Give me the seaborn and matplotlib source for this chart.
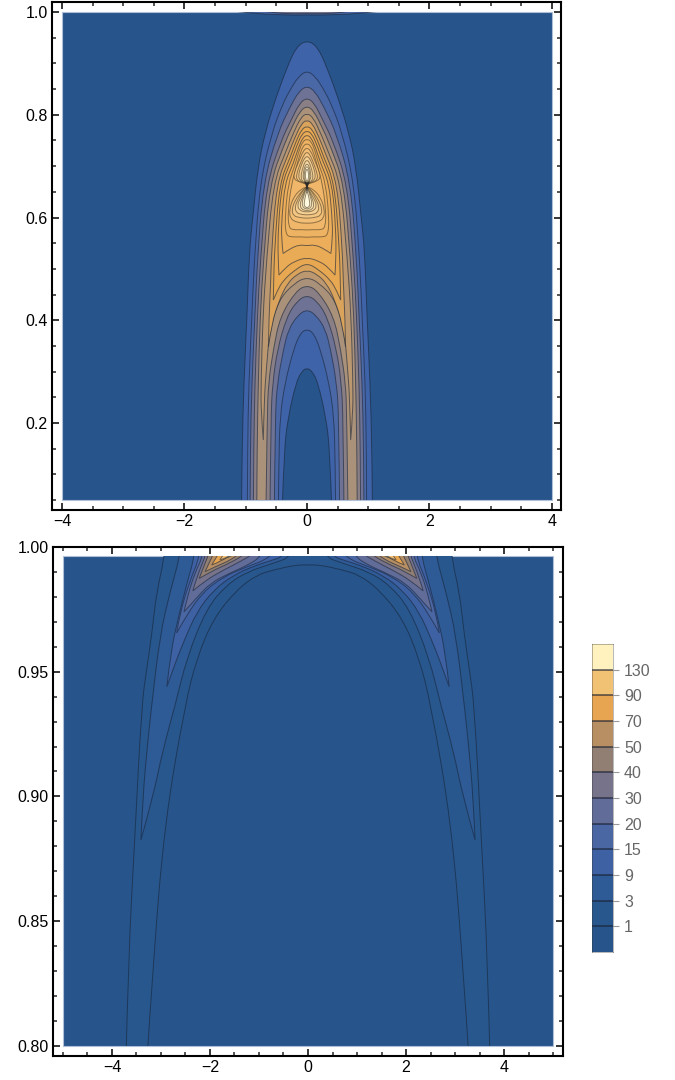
import numpy as np
import matplotlib
matplotlib.use('Agg')
import matplotlib.pyplot as plt
import seaborn as sns

from matplotlib.colors import ListedColormap
from matplotlib.patches import PathPatch, Rectangle
from matplotlib.path import Path

# legend
legend_labels = [130, 90, 70, 50, 40, 30, 20, 15, 9, 3, 1]
legend_colors = ['#27558B', '#28578D', '#2E5A95', '#3E61A3', '#4A66A3', '#616C98',
                 '#76738A', '#927F73', '#B78F63', '#E7A551', '#F2C274', '#FFF2BF']
background_color = legend_colors[0]

top_outer = [
    [(0, .945), (.17, .933), (.32, .894), (.52, .829), (.685, .7645), (.80, .699), (.885, .60), (.94, .537), (.98, .407), (1.03, .278), (1.06, .1475), (1.07, .03)],
    [(0, .886), (.14, .874), (.27, .85), (.40, .82), (.577, .764), (.767, .667), (.86, .517), (.90, .407), (.95, .278), (.97, .15), (.974, .03)],
    [(0, .856), (.13, .846), (.277, .815), (.48, .764), (.713, .667), (.81, .517), (.85, .407), (.90, .278), (.925, .15), (.93, .03)],
    [(0, .833), (.12, .823), (.27, .787), (.42, .75), (.658, .667), (.76, .517), (.81, .407), (.85, .278), (.87, .15), (.876, .03)],
    [(0, .817), (.11, .808), (.25, .775), (.38, .74), (.604, .667), (.71, .517), (.765, .407), (.795, .278), (.815, .15), (.82, .03)],
    [(0, .803), (.10, .795), (.22, .765), (.34, .73), (.55, .667), (.66, .517), (.72, .407), (.75, .278), (.75, .22), (.713, .167)],
    [(0, .79), (.09, .783), (.20, .755), (.30, .725), (.495, .667), (.577, .5367), (.593, .472), (.62, .407), (.63, .3487)],
    [(0, .778), (.085, .772), (.18, .748), (.27, .718), (.45, .667), (.53, .5367), (.545, .47), (.55, .4394)],
    [(0, .769), (.08, .763), (.16, .742), (.25, .712), (.41, .667), (.47, .58), (.475, .52), (.457, .488)],
    [(0, .761), (.07, .755), (.14, .736), (.22, .706), (.36, .667), (.41, .6), (.42, .56), (.39, .53)],
]
top_inner = [
    [(0, .3077), (.09, .30), (.18, .278), (.305, .213), (.375, .1475), (.405, .03)],
    [(0, .383), (.11, .375), (.22, .343), (.36, .278), (.44, .213), (.46, .13), (.468, .03)],
    [(0, .4213), (.15, .41), (.30, .383), (.386, .343), (.484, .278), (.52, .213), (.533, .03)],
    [(0, .449), (.16, .438), (.33, .407), (.484, .343), (.56, .278), (.59, .213), (.604, .03)],
    [(0, .4686), (.18, .457), (.44, .407), (.55, .343), (.63, .278), (.65, .213), (.67, .03)],
    [(0, .484), (.2, .473), (.468, .4394), (.615, .374), (.66, .31), (.70, .245), (.713, .167)],
    [(0, .4978), (.16, .49), (.32, .472), (.45, .44), (.577, .394), (.63, .3487)],
    [(0, .512), (.196, .498), (.386, .478), (.484, .458), (.55, .4394)],
    [(0, .5224), (.2, .515), (.35, .503), (.457, .488)],
    [(0, .545), (.12, .547), (.27, .54), (.39, .53)],
]
top_ring_colors = ['#3F63A8', '#4B68A6', '#6E7395', '#8A7F85', '#A9917A', '#BC9871',
                   '#D9A35C', '#E8A852', '#EAAB56', '#ECAE5B']

# closed loops around both lobes, then the upper and the lower lobe
top_loops = [
    [(0, .753), (.07, .748), (.13, .73), (.2, .70), (.305, .667), (.36, .60), (.345, .565), (.24, .562), (.1, .5625), (0, .5614)],
    [(0, .744), (.06, .74), (.12, .722), (.18, .695), (.25, .667), (.31, .615), (.30, .58), (.22, .576), (.1, .5765), (0, .5757)],
]
top_loop_colors = ['#EEB263', '#F0B76B']
upper_lobes = [
    [(0, .736), (.06, .73), (.13, .71), (.20, .69), (.22, .675), (.12, .669), (.03, .666), (0, .665)],
    [(0, .728), (.05, .722), (.11, .705), (.17, .685), (.17, .673), (.09, .669), (0, .665)],
    [(0, .72), (.05, .714), (.10, .70), (.14, .683), (.12, .672), (0, .665)],
    [(0, .712), (.04, .707), (.08, .692), (.10, .68), (.08, .671), (0, .665)],
    [(0, .705), (.035, .70), (.065, .685), (.06, .674), (0, .666)],
    [(0, .70), (.03, .695), (.05, .68), (.035, .672), (0, .668)],
    [(0, .695), (.02, .69), (.03, .68), (.015, .673), (0, .67)],
]
lower_lobes = [
    [(0, .66), (.1, .655), (.22, .64), (.29, .615), (.27, .597), (.15, .59), (0, .5886)],
    [(0, .66), (.08, .652), (.19, .635), (.25, .615), (.22, .603), (.12, .6), (0, .5984)],
    [(0, .66), (.07, .652), (.15, .635), (.2, .62), (.17, .609), (.09, .606), (0, .605)],
    [(0, .66), (.05, .65), (.12, .635), (.155, .625), (.13, .614), (0, .61)],
    [(0, .66), (.04, .65), (.09, .635), (.115, .625), (.09, .616), (0, .613)],
    [(0, .66), (.03, .65), (.07, .635), (.08, .626), (.06, .619), (0, .616)],
    [(0, .652), (.02, .645), (.045, .63), (.045, .623), (.02, .62), (0, .619)],
]
lobe_colors = ['#F2BE76', '#F4C684', '#F6D092', '#F8DAA4', '#FBE6B8', '#FDF0CC', '#FFF9E0']
pinch_x = [-.05, 0, .05, .016, .01, 0, -.01, -.016]
pinch_y = [.671, .668, .671, .661, .652, .647, .652, .661]
strip_edges = [
    [(0, .9945), (.2, .994), (.5, .995), (.85, .997), (1.23, 1.002)],
    [(0, .997), (.2, .9965), (.45, .9975), (.75, 1.002)],
]
strip_colors = ['#4A66A3', '#76738A']

# lower panel
low_band1_outer = [(2.88, 1.01), (2.92, .9964), (3.09, .982), (3.19, .9647), (3.29, .9513), (3.395, .9366), (3.53, .885), (3.667, .835), (3.72, .79)]
low_band1_inner = [(3.30, .79), (3.156, .835), (2.92, .89), (2.51, .9366), (2.27, .9554), (1.93, .9714), (1.456, .9828), (1.047, .9888), (.707, .9908), (.245, .9928), (0, .9928)]
low_outer = [
    [(2.55, 1.005), (2.61, .9964), (2.816, .982), (3.02, .9647), (3.19, .9366), (3.28, .92), (3.37, .90), (3.41, .8825)],
    [(2.27, 1.005), (2.31, .9964), (2.48, .9848), (2.65, .9714), (2.80, .958), (2.88, .944)],
    [(2.17, 1.005), (2.2, .9964), (2.42, .986), (2.62, .973), (2.68, .9655)],
    [(2.12, 1.003), (2.14, .9964), (2.3, .99), (2.45, .981), (2.53, .974)],
    [(2.03, 1.002), (2.07, .9975), (2.27, .988), (2.35, .9824)],
    [(1.96, 1.002), (2.0, .9985), (2.13, .992), (2.22, .9874)],
    [(1.86, 1.002), (1.9, .9985), (2.02, .9935), (2.1, .9901)],
    [(1.75, 1.002), (1.78, .999), (1.88, .9955), (1.965, .9928)],
    [(1.64, 1.002), (1.68, .9985), (1.74, .9965), (1.8, .9948)],
    [(1.5, 1.002), (1.54, .9985), (1.6, .9968), (1.64, .9958)],
]
low_inner = [
    [(3.41, .8825), (3.16, .90), (2.97, .918), (2.71, .9366), (2.476, .9554), (2.07, .9754), (1.66, .9848), (1.25, .990), (.707, .9935), (.33, .9961), (.1, 1.005)],
    [(2.88, .944), (2.75, .9513), (2.54, .962), (2.27, .974), (1.93, .9827), (1.52, .9888), (1.05, .9928), (.707, .9948), (.5, .9964), (.3, 1.003)],
    [(2.68, .9655), (2.48, .9727), (2.14, .982), (1.73, .988), (1.25, .9921), (.78, .9955), (.6, 1.0)],
    [(2.53, .974), (2.3, .979), (2.0, .9855), (1.6, .9895), (1.2, .993), (.95, .9964), (.8, 1.002)],
    [(2.35, .9824), (2.1, .9865), (1.75, .9905), (1.35, .9945), (1.1, .9975), (1.0, 1.002)],
    [(2.22, .9874), (1.95, .9905), (1.6, .9935), (1.25, .9975), (1.15, 1.002)],
    [(2.1, .9901), (1.85, .9925), (1.55, .995), (1.35, .9985), (1.25, 1.002)],
    [(1.965, .9928), (1.75, .9945), (1.55, .9972), (1.42, 1.002)],
    [(1.8, .9948), (1.65, .9958), (1.5, .9975), (1.4, 1.002)],
    [(1.64, .9958), (1.5, .997), (1.38, .9985), (1.3, 1.002)],
]

top_x_major = [-4, -2, 0, 2, 4]
top_y_major = [.2, .4, .6, .8, 1.0]
low_x_major = [-4, -2, 0, 2, 4]
low_y_major = [.80, .85, .90, .95, 1.00]

LINE_COLOR = (.09, .14, .22, .6)
LOBE_LINE_COLOR = (.3, .24, .14, .6)


def arc(points):
    # quadratic pieces with the read points as control points
    pts = np.asarray(points, dtype=float)
    if len(pts) < 3:
        return [tuple(p) for p in pts[1:]], [Path.LINETO] * (len(pts) - 1)
    verts, codes = [], []
    for i in range(1, len(pts) - 1):
        end = pts[i + 1] if i == len(pts) - 2 else (pts[i] + pts[i + 1]) / 2
        verts += [tuple(pts[i]), tuple(end)]
        codes += [Path.CURVE3, Path.CURVE3]
    return verts, codes


def mirror(points):
    return [(-x, y) for x, y in points][::-1]


def add_outline(ax, clip, verts, codes, color, line_color=LINE_COLOR):
    patch = PathPatch(Path(verts, codes), facecolor=color, edgecolor=line_color, linewidth=.7)
    ax.add_patch(patch)
    patch.set_clip_path(clip)


def closed_shape(parts, ax, clip, color):
    # parts are open arcs joined by straight pieces, then closed
    verts = [parts[0][0]]
    codes = [Path.MOVETO]
    for k, part in enumerate(parts):
        if k > 0:
            verts.append(part[0])
            codes.append(Path.LINETO)
        v, c = arc(part)
        verts += v
        codes += c
    verts.append(verts[0])
    codes.append(Path.CLOSEPOLY)
    add_outline(ax, clip, verts, codes, color)


def draw_ring(ax, clip, outer, inner, color):
    outer_full = mirror(outer) + list(outer[1:])
    inner_full = inner[::-1] + [(-x, y) for x, y in inner[1:]]
    closed_shape([outer_full, inner_full], ax, clip, color)


def draw_loop(ax, clip, half, color):
    # control polygon around the whole loop
    pts = np.array(list(half) + [(-x, y) for x, y in half[-2:0:-1]], dtype=float)
    start = (pts[-1] + pts[0]) / 2
    verts, codes = [tuple(start)], [Path.MOVETO]
    for i in range(len(pts)):
        end = (pts[i] + pts[(i + 1) % len(pts)]) / 2
        verts += [tuple(pts[i]), tuple(end)]
        codes += [Path.CURVE3, Path.CURVE3]
    verts.append(tuple(start))
    codes.append(Path.CLOSEPOLY)
    add_outline(ax, clip, verts, codes, color, LOBE_LINE_COLOR)


def style_axes(ax, x_major, x_minor, y_major, y_minor, y_labels):
    ax.set_xticks(x_major)
    ax.set_xticks(x_minor, minor=True)
    ax.set_yticks(y_major)
    ax.set_yticks(y_minor, minor=True)
    ax.set_xticklabels([f'{v}'.replace('-', '\u2212') for v in x_major])
    ax.set_yticklabels(y_labels)
    ax.tick_params(which='major', direction='in', length=5, width=1.1, top=True, right=True,
                   bottom=True, left=True, labelsize=11.5, pad=3, colors='black')
    ax.tick_params(which='minor', direction='in', length=2.6, width=1.1, top=True, right=True,
                   bottom=True, left=True)
    for spine in ax.spines.values():
        spine.set_linewidth(1.5)
        spine.set_color('black')
        spine.set_visible(True)
    ax.grid(False)
    ax.set_facecolor('white')


def data_frame(ax, x0, x1, y0, y1):
    rect = Rectangle((x0, y0), x1 - x0, y1 - y0, facecolor=background_color,
                     edgecolor='#AFC0D6', linewidth=.8, zorder=.5)
    ax.add_patch(rect)
    clip = Rectangle((x0, y0), x1 - x0, y1 - y0, transform=ax.transData)
    return clip


def plot_top(fig):
    ax = fig.add_axes([52 / 675, 1 - 510 / 1080, 509 / 675, 508 / 1080])
    ax.set_xlim(-4.163, 4.147)
    ax.set_ylim(.0307, 1.0195)
    clip = data_frame(ax, -4, 4, .05, 1.0)
    for outer, inner, color in zip(top_outer, top_inner, top_ring_colors):
        draw_ring(ax, clip, outer, inner, color)
    for half, color in zip(top_loops, top_loop_colors):
        draw_loop(ax, clip, half, color)
    for lobes in (upper_lobes, lower_lobes):
        for half, color in zip(lobes, lobe_colors):
            draw_loop(ax, clip, half, color)
    ax.fill(pinch_x, pinch_y, color='#2B2A28', linewidth=0)
    for edge, color in zip(strip_edges, strip_colors):
        closed_shape([mirror(edge) + edge[1:], [(1.3, 1.01), (-1.3, 1.01)]], ax, clip, color)
    style_axes(ax, top_x_major, np.arange(-4, 4.01, .5), top_y_major, np.arange(.05, 1.001, .05),
               [f'{v:.1f}' for v in top_y_major])


def plot_bottom(fig):
    ax = fig.add_axes([53 / 675, 1 - 1056 / 1080, 510 / 675, 509 / 1080])
    ax.set_xlim(-5.204, 5.204)
    ax.set_ylim(.7959, 1.0)
    clip = data_frame(ax, -5, 5, .8, .9964)
    arch = low_band1_inner + [(-x, y) for x, y in low_band1_inner[-2::-1]]
    closed_shape([low_band1_outer, arch, mirror(low_band1_outer)], ax, clip, legend_colors[1])
    for outer, inner, color in zip(low_outer, low_inner, legend_colors[2:]):
        closed_shape([outer, inner], ax, clip, color)
        closed_shape([mirror(inner), mirror(outer)], ax, clip, color)
    style_axes(ax, low_x_major, np.arange(-5, 5.01, .5), low_y_major, np.arange(.80, 1.001, .01),
               [f'{v:.2f}' for v in low_y_major])


def plot_legend(fig):
    ax = fig.add_axes([592 / 675, 1 - 952 / 1080, 21 / 675, 308 / 1080])
    band_index = np.arange(len(legend_colors))[::-1].reshape(-1, 1)
    sns.heatmap(band_index, ax=ax, cmap=ListedColormap(legend_colors), cbar=False,
                xticklabels=False, yticklabels=False)
    ax.hlines(range(1, len(legend_colors)), 0, 1, color=(.1, .13, .2, .75), linewidth=1.1)
    ax.yaxis.tick_right()
    ax.set_yticks(range(1, len(legend_colors)))
    ax.set_yticklabels([str(v) for v in legend_labels], rotation=0)
    ax.tick_params(axis='y', length=4, width=.8, color='#999999', labelcolor='#666666',
                   labelsize=11.5, pad=4, left=False, right=True)
    ax.tick_params(axis='x', length=0)
    for spine in ax.spines.values():
        spine.set_visible(True)
        spine.set_linewidth(.7)
        spine.set_color((.2, .2, .2, .35))


def main():
    sns.set_theme(style='ticks')
    plt.rcParams['font.family'] = ['Liberation Sans', 'DejaVu Sans']
    fig = plt.figure(figsize=(6.75, 10.8), dpi=100)
    plot_top(fig)
    plot_bottom(fig)
    plot_legend(fig)
    fig.savefig('out.png', dpi=100)


if __name__ == "__main__":
    main()
